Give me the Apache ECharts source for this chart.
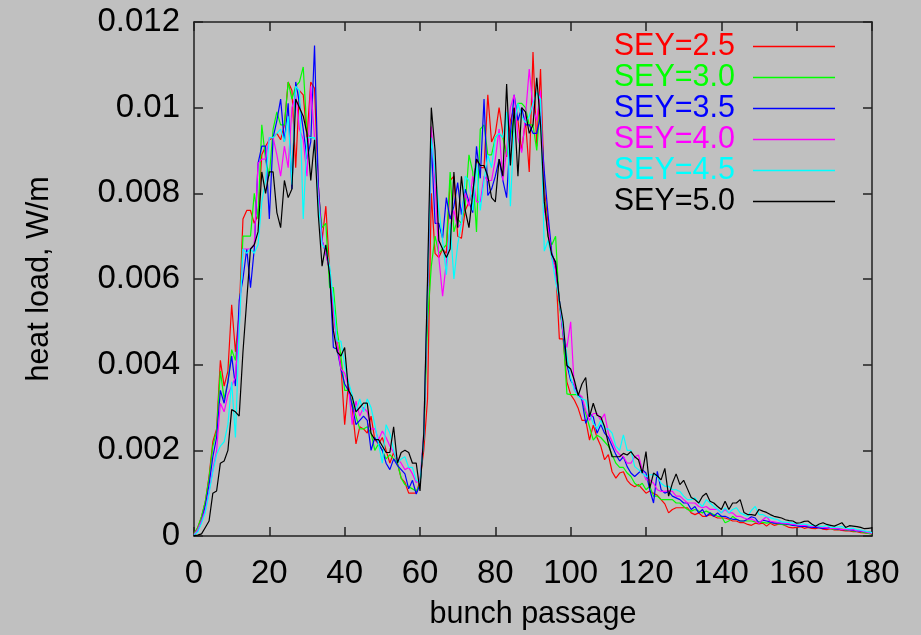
<!DOCTYPE html>
<html>
<head>
<meta charset="utf-8">
<script src="https://cdn.jsdelivr.net/npm/echarts@6/dist/echarts.min.js"></script>
<style>
html,body{margin:0;padding:0;background:#c0c0c0;}
#chart{width:921px;height:635px;}
</style>
</head>
<body>
<div id="chart"></div>
<script>
// heat load values in units of 1e-3 W/m, one value per bunch passage 0..180
const sey25 = [
.05,.2,.45,.8,1.4,2.2,2.5,4.1,3.5,3.85,
5.4,4.3,5.2,7.4,7.6,7.6,7.3,7.5,8.9,9.1,
9.25,9.3,9.4,9.25,9.6,10.6,10.4,8.6,10.4,10.3,
9.3,10.6,10.45,8.2,6.9,7.7,6.2,5.3,4.5,4.0,
2.6,3.55,3.0,2.15,2.55,2.5,2.4,2.8,2.25,2.15,
2.3,2.0,1.7,1.95,1.7,1.35,1.25,1.0,1.0,1.0,
1.3,2.0,3.2,8.0,6.6,6.5,6.7,6.6,8.3,8.4,
7.0,6.95,7.6,7.8,8.0,8.8,8.6,8.6,10.3,9.2,
9.4,10.0,9.4,8.85,9.7,10.0,9.7,9.0,9.7,8.5,
11.3,9.1,10.9,8.1,7.3,6.5,6.3,4.6,4.6,3.6,
3.3,3.17,2.98,2.7,2.7,2.24,2.59,2.3,2.1,1.78,
1.9,1.5,1.35,1.47,1.5,1.3,1.2,1.15,1.2,1.1,
1.0,1.05,1.0,0.95,0.85,0.75,0.54,0.62,0.66,0.66,
0.66,0.66,0.54,0.5,0.54,0.46,0.46,0.5,0.46,0.42,
0.42,0.42,0.39,0.35,0.35,0.31,0.31,0.27,0.25,0.3,
0.28,0.3,0.23,0.3,0.25,0.27,0.28,0.24,0.2,0.19,
0.2,0.22,0.18,0.2,0.18,0.17,0.2,0.16,0.15,0.17,
0.14,0.15,0.13,0.12,0.12,0.1,0.1,0.08,0.07,0.06,0.05];
const sey30 = [
.05,.2,.45,.8,1.35,2.1,2.45,3.85,3.2,3.6,
4.35,4.1,5.0,7.0,7.0,7.0,8.0,7.4,9.6,8.8,
8.4,9.5,9.9,9.6,9.6,10.6,10.2,10.5,10.6,10.95,
9.4,9.3,9.3,8.0,7.2,7.3,5.8,5.8,4.8,4.2,
3.4,3.4,3.1,2.8,2.5,2.5,2.55,2.4,2.0,2.15,
2.0,1.8,1.9,1.8,1.7,1.35,1.2,1.15,1.1,1.05,
1.2,2.3,5.0,6.3,7.0,6.6,6.7,6.8,8.5,7.1,
7.4,7.3,7.7,8.9,8.5,7.1,9.5,9.6,8.9,8.9,
9.3,9.4,9.3,8.9,9.3,9.8,10.1,10.1,10.0,9.6,
9.6,9.0,10.2,7.9,7.0,6.8,7.0,5.4,4.7,3.32,
3.3,3.3,3.3,3.2,2.86,2.55,2.24,2.35,2.3,2.2,
2.1,1.9,1.7,1.6,1.6,1.47,1.39,1.23,1.16,1.23,
1.08,1.16,0.93,0.93,0.85,0.85,0.85,0.85,0.77,0.77,
0.69,0.62,0.58,0.62,0.58,0.54,0.58,0.54,0.5,0.46,
0.46,0.31,0.35,0.46,0.39,0.35,0.35,0.35,0.35,0.33,
0.33,0.32,0.3,0.32,0.3,0.28,0.27,0.26,0.27,0.25,
0.24,0.25,0.24,0.22,0.23,0.2,0.22,0.19,0.18,0.17,
0.16,0.15,0.16,0.14,0.13,0.12,0.11,0.1,0.08,0.06,0.05];
const sey35 = [
.03,.12,.35,.7,1.2,1.85,2.3,3.4,3.1,3.6,
4.2,3.5,5.5,6.0,6.7,5.8,6.7,8.7,9.1,9.1,
7.4,9.3,9.7,10.2,9.2,10.1,8.1,10.6,10.1,9.5,
8.8,9.2,11.45,8.2,6.9,6.6,6.2,4.4,4.36,3.9,
3.55,3.4,3.05,2.6,2.7,2.8,2.7,2.0,2.3,2.15,
2.0,1.7,1.55,1.8,1.65,1.55,1.45,1.1,1.3,0.98,
1.2,2.3,5.6,9.2,7.3,7.3,6.95,7.9,7.4,7.7,
8.25,7.5,8.1,7.8,7.55,9.1,8.35,10.2,7.95,8.1,
8.4,8.8,8.3,7.9,9.4,10.3,9.7,10.0,9.6,9.6,
9.4,9.4,9.8,8.5,7.5,6.6,6.35,5.5,4.7,4.0,
3.63,3.5,3.32,3.17,2.63,2.86,2.78,2.4,2.6,2.4,
2.3,2.1,1.9,1.75,1.85,1.62,1.47,1.39,1.47,1.55,
1.47,1.08,0.77,1.51,1.08,1.0,1.04,0.93,0.89,0.85,
0.77,0.77,0.62,0.69,0.54,0.62,0.46,0.54,0.46,0.54,
0.46,0.46,0.42,0.39,0.39,0.35,0.35,0.39,0.45,0.42,
0.3,0.37,0.35,0.33,0.3,0.3,0.29,0.28,0.27,0.25,
0.24,0.22,0.23,0.21,0.2,0.2,0.19,0.18,0.18,0.2,
0.17,0.16,0.15,0.15,0.14,0.13,0.12,0.11,0.1,0.09,0.08];
const sey40 = [
.03,.15,.35,.6,1.05,1.55,2.0,3.1,2.9,3.3,
3.5,3.7,5.0,6.7,6.7,6.7,6.8,8.7,8.8,8.8,
9.3,9.3,8.9,8.4,9.1,8.6,10.0,10.3,9.5,9.25,
8.4,10.5,9.3,8.0,6.9,6.6,6.2,5.2,4.5,3.9,
3.8,3.5,2.6,3.15,2.8,3.0,2.9,2.5,2.5,2.25,
2.45,2.3,2.1,1.95,1.8,1.7,1.55,1.6,1.45,1.25,
1.3,2.4,5.8,9.56,8.2,6.5,5.6,6.4,7.2,7.6,
7.2,7.3,8.0,7.7,8.4,7.8,7.8,8.4,8.3,8.3,
8.8,9.5,8.3,9.0,10.0,10.3,9.3,8.95,9.8,10.9,
10.0,9.7,10.4,7.6,7.2,6.5,6.2,5.5,4.7,4.4,
5.0,3.4,3.32,3.25,2.93,2.7,2.86,2.86,2.7,2.85,
2.4,2.2,2.0,1.9,1.85,1.7,1.7,1.85,1.89,1.55,
1.31,1.31,1.23,1.08,1.04,1.04,1.06,1.04,0.93,0.93,
0.85,0.77,0.77,0.77,0.69,0.66,0.69,0.62,0.62,0.62,
0.54,0.62,0.54,0.54,0.46,0.46,0.42,0.39,0.4,0.35,
0.3,0.38,0.45,0.34,0.33,0.31,0.3,0.3,0.28,0.27,
0.26,0.25,0.25,0.24,0.22,0.23,0.21,0.2,0.19,0.18,
0.18,0.17,0.15,0.16,0.14,0.15,0.12,0.12,0.1,0.08,0.06];
const sey45 = [
.02,.1,.3,.55,1.0,1.5,1.9,2.1,2.2,2.6,
3.6,2.3,4.8,6.7,6.6,6.7,6.6,6.8,7.8,8.3,
9.3,9.3,9.4,9.5,9.2,9.8,8.2,10.5,10.4,7.4,
9.3,9.3,9.3,7.8,6.8,6.7,6.3,5.5,4.55,4.55,
4.0,3.6,3.3,2.9,3.2,2.9,3.2,3.0,2.6,2.15,
1.7,2.6,2.4,2.0,1.7,1.8,1.85,1.6,1.6,1.3,
1.25,2.3,5.8,9.3,8.5,7.65,6.9,6.1,7.3,6.0,
6.8,7.3,8.4,8.3,7.6,8.7,7.6,8.3,8.9,8.6,
9.3,9.4,9.3,9.9,7.7,9.6,10.1,9.8,9.65,9.8,
10.1,10.35,10.2,6.65,6.9,6.5,5.95,5.5,4.85,4.2,
3.7,3.4,3.25,3.2,3.17,2.86,2.63,2.5,2.7,2.5,
2.5,2.4,2.1,2.0,2.36,2.0,2.0,1.62,1.55,1.47,
1.39,1.43,1.43,1.39,1.23,1.16,1.16,1.08,1.08,1.04,
0.93,0.85,0.85,0.89,0.77,0.69,0.85,0.77,0.69,0.62,
0.54,0.66,0.54,0.62,0.66,0.54,0.5,0.46,0.6,0.69,
0.5,0.5,0.45,0.43,0.4,0.38,0.33,0.32,0.32,0.3,
0.28,0.27,0.28,0.26,0.24,0.25,0.23,0.22,0.25,0.2,
0.2,0.21,0.22,0.18,0.17,0.18,0.15,0.14,0.12,0.1,0.08];
const sey50 = [
.01,.02,.05,.2,.35,1.0,1.05,1.7,1.75,2.0,
2.95,2.9,2.8,4.3,5.5,6.7,6.8,7.1,8.5,8.0,
8.5,8.5,7.55,7.2,8.3,7.9,8.1,10.2,10.0,9.8,
9.4,8.3,9.25,7.5,6.3,6.8,6.1,4.8,4.3,4.2,
4.4,3.4,3.25,2.9,3.0,3.1,3.1,2.4,2.25,2.25,
2.1,1.95,1.95,2.55,1.7,1.95,2.0,1.95,1.7,1.7,
1.05,2.4,6.0,10.0,9.0,6.9,6.7,6.5,6.7,8.5,
7.2,8.4,7.6,7.2,8.0,8.8,8.65,8.65,8.4,7.9,
7.8,8.8,8.4,10.55,8.65,10.0,8.4,10.0,9.9,9.4,
9.6,10.7,9.6,7.8,7.0,6.56,6.4,5.5,5.0,3.98,
3.9,3.63,3.28,3.55,3.7,2.78,3.1,2.82,2.78,2.55,
2.16,1.85,1.85,1.85,1.93,1.89,1.97,1.85,1.78,1.47,
1.97,1.12,1.47,1.4,1.31,1.58,0.93,1.23,1.45,1.2,
1.3,1.1,0.9,0.85,0.77,0.93,1.0,0.81,0.77,0.69,
0.62,0.81,0.62,0.77,0.77,0.85,0.55,0.5,0.5,0.48,
0.62,0.58,0.55,0.5,0.46,0.44,0.42,0.38,0.36,0.35,
0.3,0.31,0.34,0.35,0.28,0.23,0.28,0.31,0.27,0.25,
0.23,0.27,0.31,0.2,0.24,0.23,0.22,0.2,0.17,0.18,0.19];

const seriesNames = ['SEY=2.5','SEY=3.0','SEY=3.5','SEY=4.0','SEY=4.5','SEY=5.0'];
const seriesValues = [sey25, sey30, sey35, sey40, sey45, sey50];
const seriesColors = ['#ff0000','#00ff00','#0000ff','#ff00ff','#00ffff','#000000'];
const xTicks = [0,20,40,60,80,100,120,140,160,180];
const yTicks = [0,2,4,6,8,10,12]; // in 1e-3 W/m -> 0 ... 0.012

const FONT = '"Liberation Sans", Arial, Helvetica, sans-serif';
const axisCol = '#202020';

const chart = echarts.init(document.getElementById('chart'), null, {renderer:'canvas'});

function yFmt(v){ return String(parseFloat((v/1000).toFixed(3))); }

function makeX(pos, withLabels){
  const a = {
    type:'value', position:pos, min:xTicks[0], max:xTicks[xTicks.length-1], interval:20,
    axisLine:{show:true, onZero:false, lineStyle:{color:axisCol, width:1.5}},
    axisTick:{show:true, inside:true, length:9, lineStyle:{color:axisCol, width:1.5}},
    splitLine:{show:false},
    axisLabel:{show:false}
  };
  if (withLabels){
    a.name = 'bunch passage';
    a.nameLocation = 'middle';
    a.nameGap = 63;
    a.nameTextStyle = {fontFamily:FONT, fontSize:30.5, color:'#000'};
    a.axisLabel = {show:true, margin:21, fontFamily:FONT, fontSize:33, color:'#000'};
  }
  return a;
}
function makeY(pos, withLabels){
  const a = {
    type:'value', position:pos, min:yTicks[0], max:yTicks[yTicks.length-1], interval:2,
    axisLine:{show:true, onZero:false, lineStyle:{color:axisCol, width:1.5}},
    axisTick:{show:true, inside:true, length:9, lineStyle:{color:axisCol, width:1.5}},
    splitLine:{show:false},
    axisLabel:{show:false}
  };
  if (withLabels){
    a.name = 'heat load, W/m';
    a.nameLocation = 'middle';
    a.nameGap = 139;
    a.nameTextStyle = {fontFamily:FONT, fontSize:30.5, color:'#000'};
    a.axisLabel = {show:true, margin:14, fontFamily:FONT, fontSize:33, color:'#000', formatter:yFmt};
  }
  return a;
}

const option = {
  backgroundColor:'#c0c0c0',
  animation:false,
  grid:{left:194, right:49, top:22, bottom:95, containLabel:false},
  legend:{
    orient:'vertical', right:86, top:31, padding:0, align:'right',
    icon:'rect', itemWidth:82, itemHeight:1.4, itemGap:0,
    data: seriesNames.map((n,i)=>({name:n, textStyle:{color:seriesColors[i]}})),
    textStyle:{fontFamily:FONT, fontSize:30.5, lineHeight:31, padding:[0,13,0,0]}
  },
  xAxis:[ makeX('bottom', true), makeX('top', false) ],
  yAxis:[ makeY('left', true), makeY('right', false) ],
  series: seriesNames.map((n,i)=>({
    name:n, type:'line', xAxisIndex:0, yAxisIndex:0,
    symbol:'none', showSymbol:false,
    lineStyle:{color:seriesColors[i], width:1.2},
    itemStyle:{color:seriesColors[i]},
    data: seriesValues[i].map((v,k)=>[k, v])
  }))
};
chart.setOption(option);
</script>
</body>
</html>
